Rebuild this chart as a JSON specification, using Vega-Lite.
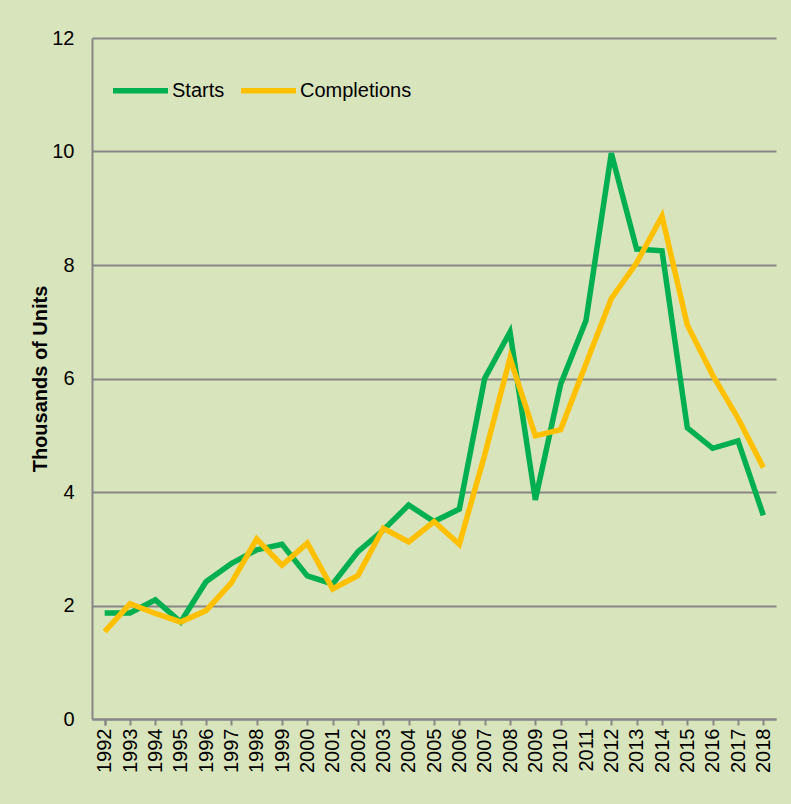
{
  "$schema": "https://vega.github.io/schema/vega-lite/v6.json",
  "width": 684,
  "height": 681,
  "autosize": {"type": "none"},
  "padding": {"left": 92, "top": 38, "right": 15, "bottom": 85},
  "background": "#d8e4bc",
  "config": {
    "font": "Liberation Sans",
    "view": {"stroke": null, "fill": "#d8e4bc"}
  },
  "data": {
    "values": [
      {"year": "1992", "series": "Starts", "value": 1.87},
      {"year": "1993", "series": "Starts", "value": 1.87},
      {"year": "1994", "series": "Starts", "value": 2.10},
      {"year": "1995", "series": "Starts", "value": 1.71},
      {"year": "1996", "series": "Starts", "value": 2.42},
      {"year": "1997", "series": "Starts", "value": 2.74},
      {"year": "1998", "series": "Starts", "value": 2.98},
      {"year": "1999", "series": "Starts", "value": 3.08},
      {"year": "2000", "series": "Starts", "value": 2.52},
      {"year": "2001", "series": "Starts", "value": 2.38},
      {"year": "2002", "series": "Starts", "value": 2.95},
      {"year": "2003", "series": "Starts", "value": 3.33},
      {"year": "2004", "series": "Starts", "value": 3.77},
      {"year": "2005", "series": "Starts", "value": 3.48},
      {"year": "2006", "series": "Starts", "value": 3.70},
      {"year": "2007", "series": "Starts", "value": 6.00},
      {"year": "2008", "series": "Starts", "value": 6.82},
      {"year": "2009", "series": "Starts", "value": 3.86},
      {"year": "2010", "series": "Starts", "value": 5.90},
      {"year": "2011", "series": "Starts", "value": 7.02},
      {"year": "2012", "series": "Starts", "value": 9.97},
      {"year": "2013", "series": "Starts", "value": 8.28},
      {"year": "2014", "series": "Starts", "value": 8.25},
      {"year": "2015", "series": "Starts", "value": 5.13},
      {"year": "2016", "series": "Starts", "value": 4.77},
      {"year": "2017", "series": "Starts", "value": 4.90},
      {"year": "2018", "series": "Starts", "value": 3.59},
      {"year": "1992", "series": "Completions", "value": 1.54},
      {"year": "1993", "series": "Completions", "value": 2.03},
      {"year": "1994", "series": "Completions", "value": 1.86},
      {"year": "1995", "series": "Completions", "value": 1.71},
      {"year": "1996", "series": "Completions", "value": 1.91},
      {"year": "1997", "series": "Completions", "value": 2.40},
      {"year": "1998", "series": "Completions", "value": 3.17},
      {"year": "1999", "series": "Completions", "value": 2.71},
      {"year": "2000", "series": "Completions", "value": 3.10},
      {"year": "2001", "series": "Completions", "value": 2.29},
      {"year": "2002", "series": "Completions", "value": 2.53},
      {"year": "2003", "series": "Completions", "value": 3.36},
      {"year": "2004", "series": "Completions", "value": 3.12},
      {"year": "2005", "series": "Completions", "value": 3.48},
      {"year": "2006", "series": "Completions", "value": 3.08},
      {"year": "2007", "series": "Completions", "value": 4.65},
      {"year": "2008", "series": "Completions", "value": 6.36},
      {"year": "2009", "series": "Completions", "value": 4.99},
      {"year": "2010", "series": "Completions", "value": 5.10},
      {"year": "2011", "series": "Completions", "value": 6.26},
      {"year": "2012", "series": "Completions", "value": 7.41},
      {"year": "2013", "series": "Completions", "value": 8.04},
      {"year": "2014", "series": "Completions", "value": 8.86},
      {"year": "2015", "series": "Completions", "value": 6.94},
      {"year": "2016", "series": "Completions", "value": 6.06},
      {"year": "2017", "series": "Completions", "value": 5.30},
      {"year": "2018", "series": "Completions", "value": 4.43}
    ]
  },
  "mark": {"type": "line", "strokeWidth": 5.5, "strokeJoin": "miter", "strokeCap": "butt"},
  "encoding": {
    "x": {
      "field": "year",
      "type": "ordinal",
      "scale": {"type": "point", "padding": 0.5},
      "axis": {
        "title": null,
        "labelAngle": -90,
        "labelAlign": "right",
        "labelBaseline": "middle",
        "labelFontSize": 20,
        "labelColor": "#000000",
        "labelPadding": 3,
        "domainColor": "#868686",
        "domainWidth": 2,
        "tickColor": "#868686",
        "tickWidth": 2,
        "tickSize": 6,
        "tickBand": "extent",
        "grid": false
      }
    },
    "y": {
      "field": "value",
      "type": "quantitative",
      "scale": {"domain": [0, 12], "nice": false},
      "axis": {
        "title": "Thousands of Units",
        "titleFontSize": 20,
        "titleFontWeight": "bold",
        "titleColor": "#000000",
        "titlePadding": 1,
        "values": [0, 2, 4, 6, 8, 10, 12],
        "labelFontSize": 20,
        "labelColor": "#000000",
        "labelPadding": 18,
        "ticks": false,
        "domainColor": "#868686",
        "domainWidth": 2,
        "gridColor": "#868686",
        "gridWidth": 2
      }
    },
    "color": {
      "field": "series",
      "type": "nominal",
      "sort": ["Starts", "Completions"],
      "scale": {"domain": ["Starts", "Completions"], "range": ["#00b050", "#ffc000"]},
      "legend": {
        "title": null,
        "orient": "none",
        "legendX": 18,
        "legendY": 22,
        "direction": "horizontal",
        "symbolType": "stroke",
        "symbolSize": 3025,
        "symbolStrokeWidth": 5.5,
        "labelFontSize": 20,
        "labelColor": "#000000",
        "labelOffset": 1,
        "columnPadding": 5
      }
    }
  }
}
